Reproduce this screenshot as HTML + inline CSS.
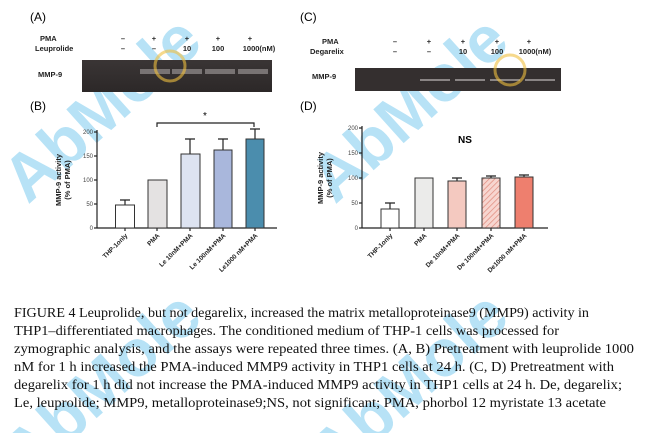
<!DOCTYPE html>
<html><head><meta charset="utf-8"><style>
html,body{margin:0;padding:0;background:#fff;overflow:hidden;width:647px;height:433px;}
svg{display:block;overflow:hidden;}
</style></head><body>
<svg width="647" height="433" viewBox="0 0 647 433" xmlns="http://www.w3.org/2000/svg" font-family="Liberation Sans, sans-serif">
<defs>
<clipPath id="frame"><rect width="647" height="433"/></clipPath>
<pattern id="hatch" width="4" height="4" patternUnits="userSpaceOnUse" patternTransform="rotate(45)">
<rect width="4" height="4" fill="#f7d6d0"/><line x1="0" y1="0" x2="0" y2="4" stroke="#e08a7c" stroke-width="1.4"/></pattern>
<linearGradient id="gel1" x1="0" y1="0" x2="0" y2="1"><stop offset="0" stop-color="#3a3535"/><stop offset="1" stop-color="#2c2828"/></linearGradient>
</defs>
<rect width="647" height="433" fill="#fff"/>

<g clip-path="url(#frame)">
<g font-family="Liberation Sans, sans-serif" font-weight="bold" fill="#7ccbef" opacity="0.55">
<text transform="translate(28 205) rotate(-42)" font-size="66">AbMole</text>
<text transform="translate(335 205) rotate(-42)" font-size="66">AbMole</text>
<text transform="translate(28 480) rotate(-42)" font-size="66">AbMole</text>
<text transform="translate(335 480) rotate(-42)" font-size="66">AbMole</text>
</g>
</g>

<!-- Panel A -->
<text x="30" y="21" font-size="12">(A)</text>
<g font-size="7.5" font-weight="bold" fill="#222">
<text x="40" y="41">PMA</text>
<text x="35" y="51">Leuprolide</text>
<text x="123" y="41" text-anchor="middle">–</text><text x="154" y="41" text-anchor="middle">+</text><text x="187" y="41" text-anchor="middle">+</text><text x="218" y="41" text-anchor="middle">+</text><text x="250" y="41" text-anchor="middle">+</text>
<text x="123" y="51" text-anchor="middle">–</text><text x="154" y="51" text-anchor="middle">–</text><text x="187" y="51" text-anchor="middle">10</text><text x="218" y="51" text-anchor="middle">100</text><text x="259" y="51" text-anchor="middle">1000(nM)</text>
<text x="38" y="77">MMP-9</text>
</g>
<rect x="82" y="60" width="190" height="32" fill="url(#gel1)"/>
<rect x="140" y="69" width="30" height="5" fill="#8a8585" opacity="0.8"/>
<rect x="172" y="69" width="30" height="5" fill="#8a8585" opacity="0.8"/>
<rect x="205" y="69" width="30" height="5" fill="#8a8585" opacity="0.8"/>
<rect x="238" y="69" width="30" height="5" fill="#8a8585" opacity="0.8"/>

<!-- Panel B -->
<text x="30" y="110" font-size="12">(B)</text>
<g stroke="#222" stroke-width="1.2" fill="none">
<line x1="97" y1="130" x2="97" y2="228"/><line x1="97" y1="228" x2="277" y2="228"/>
<line x1="94" y1="132" x2="97" y2="132"/><line x1="94" y1="156" x2="97" y2="156"/><line x1="94" y1="180" x2="97" y2="180"/><line x1="94" y1="204" x2="97" y2="204"/><line x1="94" y1="228" x2="97" y2="228"/>
<line x1="125" y1="228" x2="125" y2="231"/><line x1="157" y1="228" x2="157" y2="231"/><line x1="190" y1="228" x2="190" y2="231"/><line x1="223" y1="228" x2="223" y2="231"/><line x1="255" y1="228" x2="255" y2="231"/>
<path d="M157 127 V123 H254 V127"/>
<path d="M125 205 V200 M120 200 H130"/>
<path d="M190 154 V139 M185 139 H195"/>
<path d="M223 150 V139 M218 139 H228"/>
<path d="M255 139 V129 M250 129 H260"/>
</g>
<g stroke="#333" stroke-width="1">
<rect x="115.5" y="205" width="19" height="23" fill="#fff"/>
<rect x="148" y="180" width="19" height="48" fill="#e4e2e2"/>
<rect x="181" y="154" width="19" height="74" fill="#dde3f1"/>
<rect x="214" y="150" width="18" height="78" fill="#a9b7dc"/>
<rect x="246" y="139" width="18" height="89" fill="#4b8dad"/>
</g>
<text x="205" y="119" font-size="10" text-anchor="middle">*</text>
<g font-size="6" fill="#444" text-anchor="end">
<text x="93" y="134">200</text><text x="93" y="158">150</text><text x="93" y="182">100</text><text x="93" y="206">50</text><text x="93" y="230">0</text>
</g>
<g font-size="7.5" font-weight="bold" fill="#222" text-anchor="middle">
<text transform="translate(61 180) rotate(-90)">MMP-9 activity</text>
<text transform="translate(70 180) rotate(-90)">(% of PMA)</text>
</g>
<g font-size="6.5" font-weight="bold" fill="#222" text-anchor="end">
<text transform="translate(128 236) rotate(-45)">THP-1only</text>
<text transform="translate(160 236) rotate(-45)">PMA</text>
<text transform="translate(193 236) rotate(-45)">Le 10nM+PMA</text>
<text transform="translate(226 236) rotate(-45)">Le 100nM+PMA</text>
<text transform="translate(258 236) rotate(-45)">Le1000 nM+PMA</text>
</g>

<!-- Panel C -->
<text x="300" y="21" font-size="12">(C)</text>
<g font-size="7.5" font-weight="bold" fill="#222">
<text x="322" y="44">PMA</text>
<text x="310" y="54">Degarelix</text>
<text x="395" y="44" text-anchor="middle">–</text><text x="429" y="44" text-anchor="middle">+</text><text x="463" y="44" text-anchor="middle">+</text><text x="497" y="44" text-anchor="middle">+</text><text x="529" y="44" text-anchor="middle">+</text>
<text x="395" y="54" text-anchor="middle">–</text><text x="429" y="54" text-anchor="middle">–</text><text x="463" y="54" text-anchor="middle">10</text><text x="497" y="54" text-anchor="middle">100</text><text x="535" y="54" text-anchor="middle">1000(nM)</text>
<text x="312" y="79">MMP-9</text>
</g>
<rect x="355" y="68" width="206" height="23" fill="#342f2f"/>
<rect x="420" y="79" width="30" height="2" fill="#8a8585"/>
<rect x="455" y="79" width="30" height="2" fill="#8a8585"/>
<rect x="490" y="79" width="30" height="2" fill="#8a8585"/>
<rect x="525" y="79" width="30" height="2" fill="#8a8585"/>

<!-- Panel D -->
<text x="300" y="110" font-size="12">(D)</text>
<g stroke="#222" stroke-width="1.2" fill="none">
<line x1="362" y1="126" x2="362" y2="228"/><line x1="362" y1="228" x2="548" y2="228"/>
<line x1="359" y1="128" x2="362" y2="128"/><line x1="359" y1="153" x2="362" y2="153"/><line x1="359" y1="178" x2="362" y2="178"/><line x1="359" y1="203" x2="362" y2="203"/><line x1="359" y1="228" x2="362" y2="228"/>
<line x1="390" y1="228" x2="390" y2="231"/><line x1="424" y1="228" x2="424" y2="231"/><line x1="457" y1="228" x2="457" y2="231"/><line x1="491" y1="228" x2="491" y2="231"/><line x1="524" y1="228" x2="524" y2="231"/>
<path d="M390 209 V203 M385 203 H395"/>
<path d="M457 181 V178 M452 178 H462"/>
<path d="M491 178 V176 M486 176 H496"/>
<path d="M524 177 V175 M519 175 H529"/>
</g>
<g stroke="#333" stroke-width="1">
<rect x="381" y="209" width="18" height="19" fill="#fff"/>
<rect x="415" y="178" width="18" height="50" fill="#ebebea"/>
<rect x="448" y="181" width="18" height="47" fill="#f4c9c0"/>
<rect x="482" y="178" width="18" height="50" fill="url(#hatch)"/>
<rect x="515" y="177" width="18" height="51" fill="#ee7f6e"/>
</g>
<text x="465" y="143" font-size="10" font-weight="bold" text-anchor="middle">NS</text>
<g font-size="6" fill="#444" text-anchor="end">
<text x="358" y="130">200</text><text x="358" y="155">150</text><text x="358" y="180">100</text><text x="358" y="205">50</text><text x="358" y="230">0</text>
</g>
<g font-size="7.5" font-weight="bold" fill="#222" text-anchor="middle">
<text transform="translate(323 178) rotate(-90)">MMP-9 activity</text>
<text transform="translate(332 178) rotate(-90)">(% of PMA)</text>
</g>
<g font-size="6.5" font-weight="bold" fill="#222" text-anchor="end">
<text transform="translate(393 236) rotate(-45)">THP-1only</text>
<text transform="translate(427 236) rotate(-45)">PMA</text>
<text transform="translate(460 236) rotate(-45)">De 10nM+PMA</text>
<text transform="translate(494 236) rotate(-45)">De 100nM+PMA</text>
<text transform="translate(527 236) rotate(-45)">De1000 nM+PMA</text>
</g>

<!-- Caption -->
<g font-family="Liberation Serif, serif" font-size="13.5" fill="#111">
<text x="14" y="317" textLength="575" lengthAdjust="spacingAndGlyphs">FIGURE 4 Leuprolide, but not degarelix, increased the matrix metalloproteinase9 (MMP9) activity in</text>
<text x="14" y="335" textLength="545" lengthAdjust="spacingAndGlyphs">THP1–differentiated macrophages. The conditioned medium of THP-1 cells was processed for</text>
<text x="14" y="353" textLength="620" lengthAdjust="spacingAndGlyphs">zymographic analysis, and the assays were repeated three times. (A, B) Pretreatment with leuprolide 1000</text>
<text x="14" y="371" textLength="600" lengthAdjust="spacingAndGlyphs">nM for 1 h increased the PMA-induced MMP9 activity in THP1 cells at 24 h. (C, D) Pretreatment with</text>
<text x="14" y="389" textLength="608" lengthAdjust="spacingAndGlyphs">degarelix for 1 h did not increase the PMA-induced MMP9 activity in THP1 cells at 24 h. De, degarelix;</text>
<text x="14" y="407" textLength="592" lengthAdjust="spacingAndGlyphs">Le, leuprolide; MMP9, metalloproteinase9;NS, not significant; PMA, phorbol 12 myristate 13 acetate</text>
</g>

<circle cx="170" cy="66" r="15" fill="none" stroke="#f0c040" stroke-width="3" opacity="0.6"/>
<circle cx="510" cy="70" r="15" fill="none" stroke="#f0c040" stroke-width="3" opacity="0.6"/>
</svg>
</body></html>
